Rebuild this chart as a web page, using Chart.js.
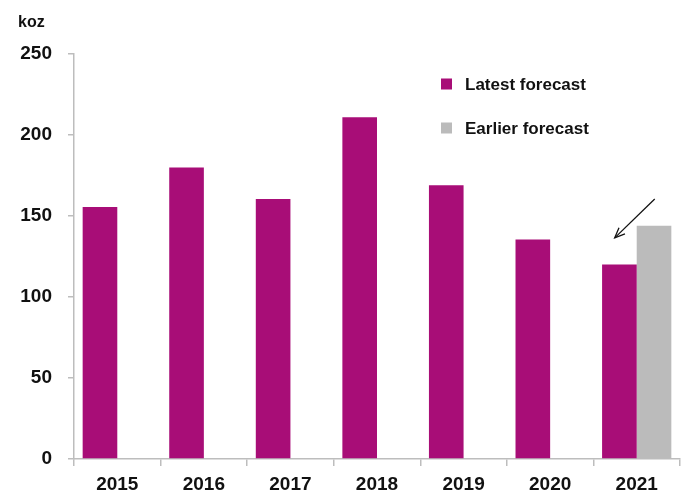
<!DOCTYPE html>
<html lang="en">
<head>
    <meta charset="UTF-8">
    <title>koz forecast</title>
    <script src="https://cdn.jsdelivr.net/npm/chart.js"></script>
    <style>
        html, body { margin: 0; padding: 0; background: #fff; }
        #wrap { width: 689px; height: 493px; }
    </style>
</head>
<body>
    <div id="wrap"><canvas id="chart" width="689" height="493"></canvas></div>
    <script>
        const years = ['2015', '2016', '2017', '2018', '2019', '2020', '2021'];
        const latestForecast = [155.5, 180, 160.5, 211, 169, 135.5, 120];
        const earlierForecast = [null, null, null, null, null, null, 144];
        const yTicks = [0, 50, 100, 150, 200, 250];
        const unitLabel = 'koz';

        const magenta = '#a80d77';
        const grey = '#bbbbbb';
        const axisGrey = '#bdbdbd';
        const font = 'Liberation Sans, Arial, sans-serif';

        // legend, unit label and the arrow pointing at the 2021 bar
        const extras = {
            id: 'extras',
            afterDraw(chart) {
                const ctx = chart.ctx;
                const x = chart.scales.x, y = chart.scales.y;
                ctx.save();
                ctx.fillStyle = '#111';
                ctx.font = 'bold 16px ' + font;
                ctx.textBaseline = 'alphabetic';
                ctx.textAlign = 'left';
                ctx.fillText(unitLabel, 18, 27);

                const rows = [[84, 0], [128, 1]];
                ctx.font = 'bold 17px ' + font;
                ctx.textBaseline = 'middle';
                rows.forEach(([cy, i]) => {
                    const ds = chart.data.datasets[i];
                    ctx.fillStyle = ds.backgroundColor;
                    ctx.fillRect(441, cy - 5.5, 11, 11);
                    ctx.fillStyle = '#111';
                    ctx.fillText(ds.label, 465, cy + 1);
                });

                // arrow
                const cx = x.getPixelForValue(6);
                const x1 = cx + 18, y1 = y.getPixelForValue(160.5);
                const x2 = cx - 22, y2 = y.getPixelForValue(136.5);
                ctx.strokeStyle = '#111';
                ctx.lineWidth = 1.3;
                ctx.beginPath();
                ctx.moveTo(x1, y1);
                ctx.lineTo(x2, y2);
                ctx.stroke();
                const ang = Math.atan2(y2 - y1, x2 - x1);
                const len = 11;
                ctx.beginPath();
                ctx.moveTo(x2 - len * Math.cos(ang - 0.4), y2 - len * Math.sin(ang - 0.4));
                ctx.lineTo(x2, y2);
                ctx.lineTo(x2 - len * Math.cos(ang + 0.4), y2 - len * Math.sin(ang + 0.4));
                ctx.stroke();
                ctx.restore();
            }
        };

        new Chart(document.getElementById('chart').getContext('2d'), {
            type: 'bar',
            data: {
                labels: years,
                datasets: [
                    {
                        label: 'Latest forecast',
                        data: latestForecast,
                        backgroundColor: magenta,
                        categoryPercentage: 0.8,
                        barPercentage: 1.0
                    },
                    {
                        label: 'Earlier forecast',
                        data: earlierForecast,
                        backgroundColor: grey,
                        categoryPercentage: 0.8,
                        barPercentage: 1.0
                    }
                ]
            },
            options: {
                responsive: false,
                animation: false,
                layout: { padding: { top: 54, right: 9, left: 0, bottom: 0 } },
                plugins: {
                    legend: { display: false },
                    tooltip: { enabled: false }
                },
                scales: {
                    x: {
                        grid: {
                            offset: true,
                            drawOnChartArea: false,
                            tickLength: 7,
                            color: axisGrey,
                            lineWidth: 1.5
                        },
                        border: { color: axisGrey, width: 1.5 },
                        ticks: {
                            color: '#111',
                            padding: 7,
                            font: { family: font, size: 19, weight: 'bold' }
                        },
                        afterFit(scale) { scale.height = 34; }
                    },
                    y: {
                        min: 0,
                        max: 250,
                        afterBuildTicks(scale) { scale.ticks = yTicks.map(v => ({ value: v })); },
                        grid: {
                            drawOnChartArea: false,
                            tickLength: 6,
                            color: axisGrey,
                            lineWidth: 1.5
                        },
                        border: { color: axisGrey, width: 1.5 },
                        ticks: {
                            color: '#111',
                            padding: 16,
                            font: { family: font, size: 19, weight: 'bold' }
                        },
                        afterFit(scale) { scale.width = 74; }
                    }
                }
            },
            plugins: [extras]
        });
    </script>
</body>
</html>
